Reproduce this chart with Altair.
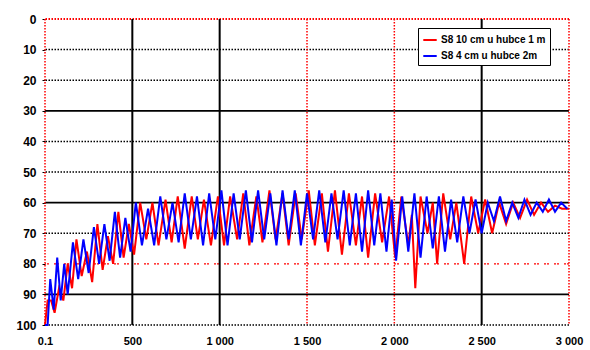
import altair as alt
import pandas as pd

# ---------------- data ----------------
series_names = ["S8 10 cm u hubce 1 m", "S8 4 cm u hubce 2m"]
series_colors = ["#ff0000", "#0000ff"]

red_x = [0, 15, 35, 55, 80, 105, 130, 155, 180, 210, 240, 270, 300, 330, 360, 390, 420, 450, 480, 510,
         545, 580, 615, 650, 690, 725, 760, 800, 840, 875, 910, 950, 990, 1025, 1060, 1100, 1135, 1170,
         1210, 1245, 1285, 1320, 1360, 1395, 1435, 1470, 1510, 1545, 1585, 1620, 1660, 1700, 1740, 1780,
         1815, 1850, 1890, 1930, 1970, 2005, 2040, 2080, 2100, 2120, 2150, 2190, 2220, 2245, 2280, 2320,
         2355, 2400, 2440, 2480, 2520, 2560, 2600, 2640, 2680, 2720, 2760, 2800, 2840, 2880, 2920, 2960, 3000]
red_y = [100, 92, 92, 96, 88, 92, 80, 88, 72, 84, 76, 86, 67, 82, 71, 80, 63, 78, 67, 77,
         60, 72, 60, 74, 59, 73, 58, 75, 58, 72, 59, 74, 58, 74, 58, 72, 57, 74,
         58, 73, 56, 72, 57, 74, 57, 72, 56, 74, 57, 76, 56, 77, 57, 74,
         58, 78, 57, 73, 58, 78, 58, 74, 64, 88, 58, 70, 60, 80, 57, 72,
         60, 80, 58, 70, 59, 70, 60, 67, 60, 65, 59, 64, 60, 63, 61, 62, 62]

blue_x = [0, 15, 30, 50, 70, 90, 110, 130, 160, 190, 220, 250, 280, 310, 340, 370, 400, 430, 460, 490,
          520, 555, 590, 625, 660, 695, 730, 765, 800, 835, 870, 905, 940, 975, 1010, 1045, 1080, 1115,
          1150, 1185, 1220, 1255, 1290, 1325, 1360, 1395, 1430, 1465, 1500, 1535, 1570, 1605, 1640, 1675,
          1710, 1745, 1780, 1815, 1850, 1885, 1920, 1955, 1985, 2010, 2045, 2080, 2115, 2150, 2185, 2220,
          2255, 2290, 2325, 2360, 2395, 2430, 2465, 2500, 2535, 2570, 2605, 2640, 2675, 2710, 2745, 2780,
          2815, 2850, 2885, 2920, 2955, 2990]
blue_y = [100, 100, 85, 95, 78, 92, 80, 90, 73, 85, 72, 83, 68, 80, 67, 79, 63, 78, 65, 76,
          60, 74, 62, 74, 58, 72, 60, 73, 57, 72, 58, 74, 57, 72, 56, 74, 57, 72,
          56, 73, 56, 72, 57, 74, 56, 72, 56, 74, 57, 72, 56, 73, 57, 72,
          56, 74, 57, 76, 56, 74, 57, 76, 59, 79, 58, 76, 57, 78, 58, 75,
          58, 76, 59, 73, 58, 70, 59, 70, 60, 66, 58, 66, 60, 65, 59, 64,
          60, 63, 59, 63, 60, 62]

x_ticks = [0, 500, 1000, 1500, 2000, 2500, 3000]
x_tick_labels = ["0.1", "500", "1 000", "1 500", "2 000", "2 500", "3 000"]
y_ticks = [0, 10, 20, 30, 40, 50, 60, 70, 80, 90, 100]

# grid groups
v_black_solid = [500, 1000, 2500]
v_red_dotted = [0, 1500, 2000, 3000]
h_black_solid = [30, 60, 90]
h_black_dotted = [10, 20, 40, 50, 70, 100]
h_red_dotted = [0]
h_red_dashed = [80]

# ---------------- tables ----------------
rows = []
for i, (xv, yv) in enumerate(zip(red_x, red_y)):
    rows.append({"x": xv, "y": yv, "s": series_names[0], "o": i})
for i, (xv, yv) in enumerate(zip(blue_x, blue_y)):
    rows.append({"x": xv, "y": yv, "s": series_names[1], "o": i})
df = pd.DataFrame(rows)

label_map = "{" + ",".join(f"'{v}':'{l}'" for v, l in zip(x_ticks, x_tick_labels)) + "}"

xscale = alt.Scale(domain=[0, 3000], nice=False, zero=False)
yscale = alt.Scale(domain=[0, 100], reverse=True, nice=False)

x_axis = alt.Axis(values=x_ticks, labelExpr=f"{label_map}[datum.value]", title=None,
                  grid=False, domain=False, ticks=False, labelPadding=10,
                  labelFont="Liberation Sans", labelFontSize=11, labelFontWeight="bold",
                  labelColor="#000000", labelFlush=False, labelOverlap=False)
y_axis = alt.Axis(values=y_ticks, title=None, grid=False, domain=False, ticks=True,
                  tickSize=3, tickColor="#000000", labelPadding=6,
                  labelFont="Liberation Sans", labelFontSize=12, labelFontWeight="bold",
                  labelColor="#000000", labelOverlap=False, labelFlush=False)

def vrules(vals, color, dash, width):
    return alt.Chart(pd.DataFrame({"v": vals})).mark_rule(
        color=color, strokeDash=dash, strokeWidth=width
    ).encode(x=alt.X("v:Q", scale=xscale, axis=x_axis))

def hrules(vals, color, dash, width):
    return alt.Chart(pd.DataFrame({"v": vals})).mark_rule(
        color=color, strokeDash=dash, strokeWidth=width
    ).encode(y=alt.Y("v:Q", scale=yscale, axis=y_axis))

grid = alt.layer(
    hrules(h_black_dotted, "#000000", [1.5, 1.5], 1.5),
    hrules(h_black_solid, "#000000", [1, 0], 1.8),
    hrules(h_red_dotted, "#ff0000", [1.5, 1.5], 1.8),
    hrules(h_red_dashed, "#ff0000", [2, 1, 2, 5], 1.2),
    vrules(v_black_solid, "#000000", [1, 0], 2),
    vrules(v_red_dotted, "#ff0000", [1.5, 1.5], 1.5),
)

lines = alt.Chart(df).mark_line(strokeWidth=2, interpolate="linear").encode(
    x=alt.X("x:Q", scale=xscale, axis=x_axis),
    y=alt.Y("y:Q", scale=yscale, axis=y_axis),
    color=alt.Color("s:N", scale=alt.Scale(domain=series_names, range=series_colors),
                    sort=series_names,
                    legend=alt.Legend(title=None, orient="none", legendX=373, legendY=9,
                                      symbolType="stroke", symbolStrokeWidth=2, symbolSize=180,
                                      labelFont="Liberation Sans", labelFontSize=10,
                                      labelFontWeight="bold", labelColor="#000000",
                                      fillColor="#ffffff", strokeColor="#000000",
                                      padding=4, rowPadding=3, labelOffset=3)),
    order="o:Q",
)

chart = alt.layer(grid, lines).properties(
    width=524, height=306,
    padding={"left": 45, "top": 19, "right": 21, "bottom": 25},
    autosize=alt.AutoSizeParams(type="none"),
    background="#ffffff",
).configure_view(stroke=None)

chart.save("out.html", embed_options={"renderer": "svg", "actions": False})
